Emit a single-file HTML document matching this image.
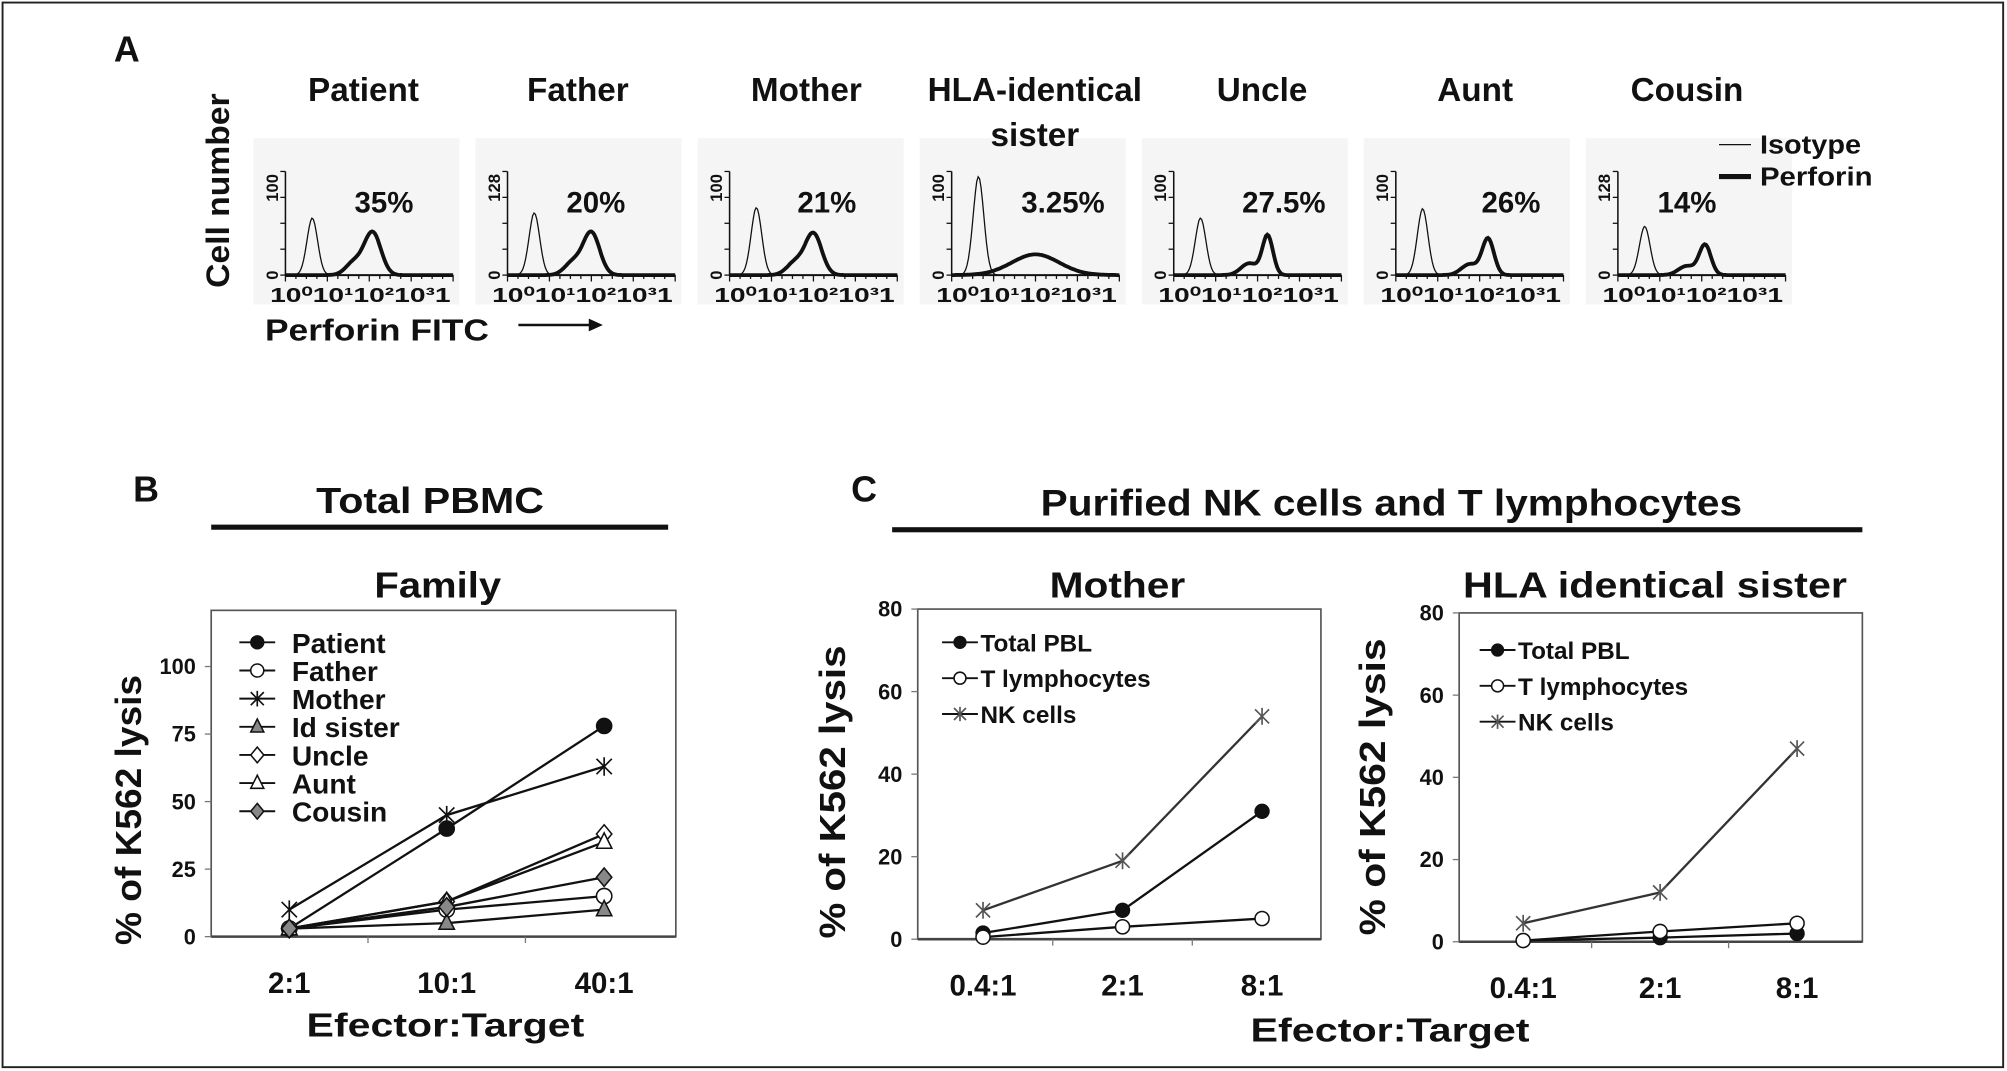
<!DOCTYPE html>
<html><head><meta charset="utf-8"><style>
html,body{margin:0;padding:0;background:#fff}
svg{display:block}
text{font-family:"Liberation Sans",Arial,sans-serif;font-weight:bold;fill:#111}
</style></head>
<body>
<svg id="fig" width="2007" height="1071" viewBox="0 0 1568 837" preserveAspectRatio="none" xmlns="http://www.w3.org/2000/svg">
<rect x="2" y="2" width="1563" height="832" fill="#fff" stroke="#222" stroke-width="1.5"/>
<text x="89" y="48" font-size="28">A</text>
<text x="104" y="392" font-size="28">B</text>
<text x="665" y="392" font-size="28">C</text>
<text transform="translate(179,149) rotate(-90)" text-anchor="middle" font-size="25" textLength="152" lengthAdjust="spacingAndGlyphs">Cell number</text>
<text x="207" y="266" font-size="24" textLength="175" lengthAdjust="spacingAndGlyphs">Perforin FITC</text>
<g><line x1="405" y1="254" x2="462" y2="254" stroke="#111" stroke-width="2"/><polygon points="460,249 471,254 460,259" fill="#111"/></g>
<text x="336" y="401" text-anchor="middle" font-size="28" textLength="178" lengthAdjust="spacingAndGlyphs">Total PBMC</text>
<rect x="165" y="410" width="357" height="4" fill="#111"/>
<text x="342" y="467" text-anchor="middle" font-size="28" textLength="99" lengthAdjust="spacingAndGlyphs">Family</text>
<text x="1087" y="403" text-anchor="middle" font-size="29" textLength="548" lengthAdjust="spacingAndGlyphs">Purified NK cells and T lymphocytes</text>
<rect x="697" y="412" width="758" height="4" fill="#111"/>
<text x="873" y="467" text-anchor="middle" font-size="28" textLength="106" lengthAdjust="spacingAndGlyphs">Mother</text>
<text x="1293" y="467" text-anchor="middle" font-size="28" textLength="300" lengthAdjust="spacingAndGlyphs">HLA identical sister</text>
<text x="348" y="810" text-anchor="middle" font-size="26" textLength="217" lengthAdjust="spacingAndGlyphs">Efector:Target</text>
<text x="1086" y="814" text-anchor="middle" font-size="26" textLength="218" lengthAdjust="spacingAndGlyphs">Efector:Target</text>
<g id="hists"></g>
<g>
<line x1="1343" y1="113" x2="1368" y2="113" stroke="#111" stroke-width="1"/>
<text x="1375" y="120" font-size="20" textLength="79" lengthAdjust="spacingAndGlyphs">Isotype</text>
<line x1="1343" y1="138" x2="1368" y2="138" stroke="#111" stroke-width="4"/>
<text x="1375" y="145" font-size="20" textLength="88" lengthAdjust="spacingAndGlyphs">Perforin</text>
</g>
<g id="plots"></g>
</svg>
<script>
const NS="http://www.w3.org/2000/svg";
// Panel A histogram parameters
const histLabels=["Patient","Father","Mother","HLA-identical","Uncle","Aunt","Cousin"];
const histPct=["35%","20%","21%","3.25%","27.5%","26%","14%"];
const histYMax=["100","128","100","100","100","100","128"];
const isoPeak=[0.55,0.6,0.65,0.95,0.55,0.64,0.47];
const perfPeak=[0.41,0.41,0.4,0.2,0.38,0.35,0.29];
const perfPos=[0.52,0.5,0.5,0.5,0.56,0.55,0.52];
const perfWidth=[0.07,0.07,0.07,0.2,0.045,0.05,0.05];
// layout-only offsets (pixels)
const titleOff=[61,55,60,65,69,62,54];
const pctOff=[77,69,76,87,86,90,54];
// Panel B data
const bCats=["2:1","10:1","40:1"];
const bNames=["Patient","Father","Mother","Id sister","Uncle","Aunt","Cousin"];
const bMarkers=["fcircle","ocircle","star","gtri","odiam","otri","gdiam"];
const bPatient=[3,40,78];
const bFather=[3,10,15];
const bMother=[10,45,63];
const bSister=[3,5,10];
const bUncle=[3,13,38];
const bAunt=[3,13,35];
const bCousin=[3,11,22];
const bTicks=[0,25,50,75,100];
// Panel C data
const cCats=["0.4:1","2:1","8:1"];
const cNames=["Total PBL","T lymphocytes","NK cells"];
const cMarkers=["fcircle","ocircle","xstar"];
const motherPBL=[1.5,7,31];
const motherT=[0.5,3,5];
const motherNK=[7,19,54];
const sisterPBL=[0.3,1,2];
const sisterT=[0.3,2.5,4.5];
const sisterNK=[4.5,12,47];
const cTicks=[0,20,40,60,80];

function el(tag,attrs,parent){const e=document.createElementNS(NS,tag);for(const k in attrs)e.setAttribute(k,attrs[k]);if(parent)parent.appendChild(e);return e;}
function txt(s,attrs,parent){const t=el("text",attrs,parent);t.textContent=s;return t;}

// Histograms
const H=document.getElementById("hists");
histLabels.forEach((lab,i)=>{
  const ax=223+i*173.5, base=215, top=134, w=131, hh=base-top;
  const g=el("g",{},H);
  
  
  el("rect",{x:ax-25,y:108,width:w+30,height:130,fill:"#f5f5f5"},g);
  const tt=txt(lab,{x:ax+titleOff[i],y:79,"text-anchor":"middle","font-size":"26"},g);
  
  
  if(lab==="HLA-identical"){const t2=txt("sister",{x:ax+titleOff[i],y:114,"text-anchor":"middle","font-size":"26"},g);}
  el("line",{x1:ax,y1:top,x2:ax,y2:base,stroke:"#111","stroke-width":1.2},g);
  el("line",{x1:ax,y1:base,x2:ax+w,y2:base,stroke:"#111","stroke-width":1.5},g);
  for(let k=0;k<=4;k++)el("line",{x1:ax-4,y1:base-k*hh/4,x2:ax,y2:base-k*hh/4,stroke:"#111"},g);
  for(let k=0;k<=16;k++)el("line",{x1:ax+k*w/16,y1:base,x2:ax+k*w/16,y2:base+(k%4==0?5:3),stroke:"#111"},g);
  txt(histYMax[i],{transform:`translate(${ax-6},${top+2}) rotate(-90)`,"text-anchor":"end","font-size":"13","font-weight":"normal"},g);
  txt("0",{transform:`translate(${ax-6},${base}) rotate(-90)`,"text-anchor":"middle","font-size":"13","font-weight":"normal"},g);
  const tl=txt("10⁰10¹10²10³1",{x:ax-12,y:base+21,"font-size":"16","font-weight":"normal",textLength:"141",lengthAdjust:"spacingAndGlyphs"},g);
  
  
  const pc=txt(histPct[i],{x:ax+pctOff[i],y:166,"text-anchor":"middle","font-size":"23"},g);
  
  
  let iso="",perf="";
  for(let s=0;s<=120;s++){
    const f=s/120, x=ax+f*w;
    const yi=isoPeak[i]*Math.exp(-Math.pow((f-0.16)/0.045,2));
    let yp=perfPeak[i]*Math.exp(-Math.pow((f-perfPos[i])/perfWidth[i],2));
    if(i!==3) yp+=perfPeak[i]*0.3*Math.exp(-Math.pow((f-perfPos[i]+0.11)/0.07,2));
    iso+=(s?"L":"M")+x.toFixed(1)+","+(base-yi*hh).toFixed(1);
    perf+=(s?"L":"M")+x.toFixed(1)+","+(base-Math.min(yp,0.98)*hh).toFixed(1);
  }
  const pi=el("path",{d:iso,fill:"none",stroke:"#111","stroke-width":1},g);
  
  
  const pp=el("path",{d:perf,fill:"none",stroke:"#111","stroke-width":3},g);
  
  
});

function marker(g,type,x,y,r){
  let m;
  if(type==="fcircle")m=el("circle",{cx:x,cy:y,r:r,fill:"#111",stroke:"#111"},g);
  else if(type==="ocircle")m=el("circle",{cx:x,cy:y,r:r,fill:"#fff",stroke:"#111","stroke-width":1.2},g);
  else if(type==="star"||type==="xstar"){m=el("path",{d:`M${x-r},${y-r}L${x+r},${y+r}M${x-r},${y+r}L${x+r},${y-r}M${x},${y-r*1.2}L${x},${y+r*1.2}`,stroke:type==="xstar"?"#555":"#111","stroke-width":1.3,fill:"none"},g);}
  else if(type==="gtri"||type==="otri")m=el("polygon",{points:`${x},${y-r*1.2} ${x+r},${y+r*0.8} ${x-r},${y+r*0.8}`,fill:type==="gtri"?"#888":"#fff",stroke:"#111","stroke-width":1.2},g);
  else m=el("polygon",{points:`${x},${y-r*1.2} ${x+r},${y} ${x},${y+r*1.2} ${x-r},${y}`,fill:type==="gdiam"?"#888":"#fff",stroke:"#111","stroke-width":1.2},g);
  
  
}

function chart(opts){
  const P=document.getElementById("plots");
  const g=el("g",{},P);
  
  
  const {x0,x1,y0,yTop,vmax,cats,catX,ticks,series,names,markers,legX,legY,legStep,legFont,r}=opts;
  const ys=v=>y0-(v/vmax)*(y0-yTop);
  const xs=i=>catX[0]+i*(catX[1]-catX[0]);
  el("rect",{x:x0,y:yTop,width:x1-x0,height:y0-yTop,fill:"#fff",stroke:"#555","stroke-width":1.3},g);
  el("line",{x1:x0,y1:y0,x2:x1,y2:y0,stroke:"#444","stroke-width":2},g);
  ticks.forEach(t=>{
    el("line",{x1:x0-5,y1:ys(t),x2:x0,y2:ys(t),stroke:"#777"},g);
    const tl=txt(String(t),{x:x0-12,y:ys(t)+6,"text-anchor":"end","font-size":"17"},g);
    
    
  });
  cats.forEach((c,i)=>{
    const cl=txt(c,{x:xs(i),y:y0+44,"text-anchor":"middle","font-size":"23"},g);
    
    
    if(i>0){el("line",{x1:(xs(i)+xs(i-1))/2,y1:y0,x2:(xs(i)+xs(i-1))/2,y2:y0+5,stroke:"#777"},g);}
  });
  const yt=txt("% of K562 lysis",{transform:`translate(${opts.titleX},${opts.titleY}) rotate(-90)`,"text-anchor":"middle","font-size":"28",textLength:opts.titleLen,lengthAdjust:"spacingAndGlyphs"},g);
  
  
  series.forEach((vals,si)=>{
    const sg=el("g",{},g);
    
    
    const d=vals.map((v,i)=>(i?"L":"M")+xs(i)+","+ys(v)).join("");
    el("path",{d:d,fill:"none",stroke:markers[si]==="xstar"?"#333":"#111","stroke-width":1.8},sg);
    vals.forEach((v,i)=>marker(sg,markers[si],xs(i),ys(v),r));
    const lg=el("g",{},g);
    
    
    const ly=legY+si*legStep;
    el("line",{x1:legX-14,y1:ly,x2:legX+14,y2:ly,stroke:"#111","stroke-width":1.5},lg);
    marker(lg,markers[si],legX,ly,r*0.85);
    txt(names[si],{x:legX+(opts.legGap||26),y:ly+legFont*0.37,"font-size":legFont},lg);
  });
}
chart({name:"panel-b-chart",x0:165,x1:528,y0:732,yTop:477,vmax:120.8,cats:bCats,catX:[226,349],ticks:bTicks,
  series:[bPatient,bFather,bMother,bSister,bUncle,bAunt,bCousin],names:bNames,markers:bMarkers,
  legX:201,legY:502,legStep:22,legFont:22,r:6,titleX:110,titleY:633,titleLen:211,legGap:27});
chart({name:"panel-c-mother-chart",x0:717,x1:1032,y0:734,yTop:476,vmax:80,cats:cCats,catX:[768,877],ticks:cTicks,
  series:[motherPBL,motherT,motherNK],names:cNames,markers:cMarkers,
  legX:750,legY:502,legStep:28,legFont:19,r:5.5,titleX:660,titleY:619,titleLen:229,legGap:16});
chart({name:"panel-c-sister-chart",x0:1140,x1:1455,y0:736,yTop:479,vmax:80,cats:cCats,catX:[1190,1297],ticks:cTicks,
  series:[sisterPBL,sisterT,sisterNK],names:cNames,markers:cMarkers,
  legX:1170,legY:508,legStep:28,legFont:19,r:5.5,titleX:1082,titleY:615,titleLen:232,legGap:16});
</script>
</body></html>
